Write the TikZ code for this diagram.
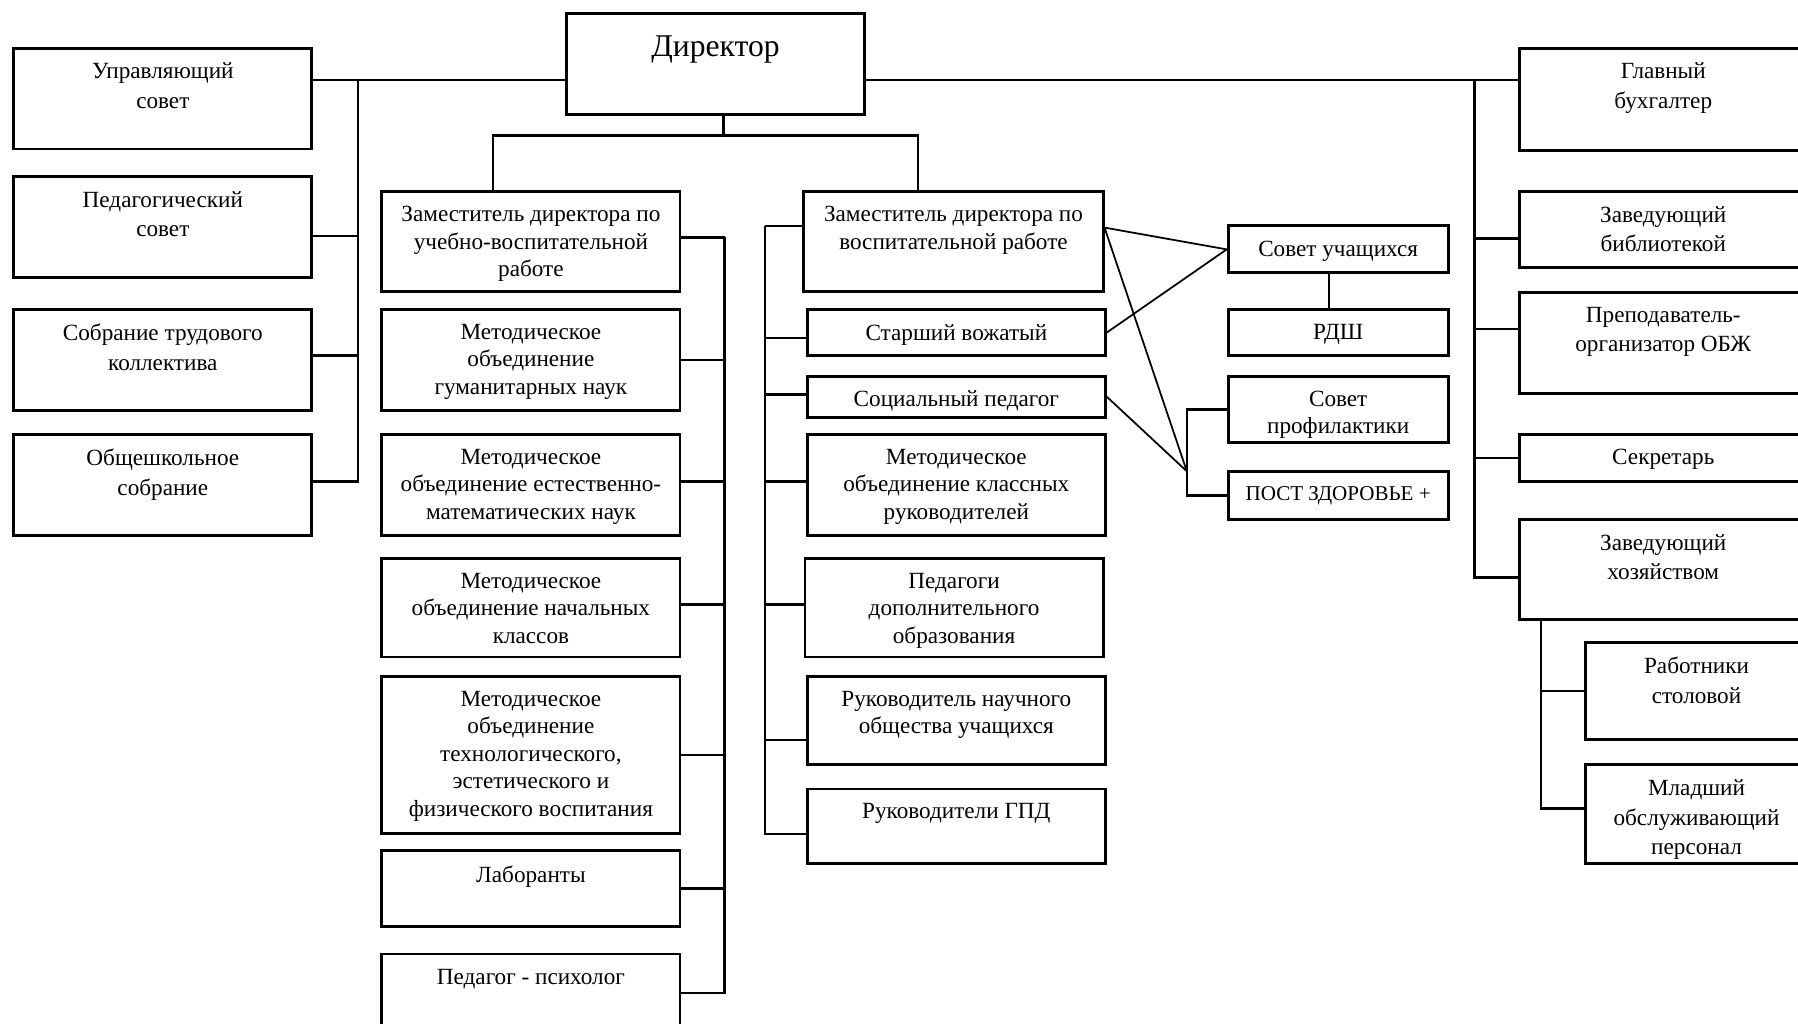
\documentclass[tikz,border=0pt]{standalone}
\usepackage{fontspec}
\setmainfont{Liberation Serif}
\usetikzlibrary{calc,fit}

\begin{document}
\begin{tikzpicture}[x=0.11467mm, y=-0.11467mm,
		box/.style={draw, line width=0.8pt, inner sep=0pt},
		lbl/.style={anchor=north, yshift=-1.55mm, align=center, inner sep=0pt, font=\fontsize{6.6}{7.8}\selectfont},
		side/.style={lbl, font=\fontsize{6.6}{8.4}\selectfont},
		head/.style={lbl, yshift=-0.7mm, font=\fontsize{9}{11}\selectfont},
		link/.style={line width=0.7pt},
		cross/.style={line width=0.5pt}]
			\useasboundingbox (0,0) rectangle (1568,893);
			\clip (0,0) rectangle (1568,893);
			% director
			\node[box, fit={(494,12) (754,100)}, label={[head]north:{Директор}}] (dir) {};
			% left column
			\node[box, fit={(12,42) (272,130)}, label={[side]north:{Управляющий\\совет}}] (upr) {};
			\node[box, fit={(12,154) (272,242)}, label={[side]north:{Педагогический\\совет}}] (ped) {};
			\node[box, fit={(12,270) (272,358)}, label={[side]north:{Собрание трудового\\коллектива}}] (sob) {};
			\node[box, fit={(12,379) (272,467)}, label={[side]north:{Общешкольное\\собрание}}] (obs) {};
			% deputy for teaching
			\node[box, fit={(333,167) (593,254)}, label={[lbl]north:{Заместитель директора по\\учебно-воспитательной\\работе}}] (zuvr) {};
			\node[box, fit={(333,270) (593,358)}, label={[lbl]north:{Методическое\\объединение\\гуманитарных наук}}] (mgum) {};
			\node[box, fit={(333,379) (593,467)}, label={[lbl]north:{Методическое\\объединение естественно-\\математических наук}}] (mest) {};
			\node[box, fit={(333,487) (593,573)}, label={[lbl]north:{Методическое\\объединение начальных\\классов}}] (mnach) {};
			\node[box, fit={(333,590) (593,727)}, label={[lbl]north:{Методическое\\объединение\\технологического,\\эстетического и\\физического воспитания}}] (mtech) {};
			\node[box, fit={(333,742) (593,808)}, label={[lbl]north:{Лаборанты}}] (lab) {};
			\node[box, fit={(333,832) (593,900)}, label={[lbl]north:{Педагог - психолог}}] (psy) {};
			% deputy for upbringing
			\node[box, fit={(701,167) (962,254)}, label={[lbl]north:{Заместитель директора по\\воспитательной работе}}] (zvr) {};
			\node[box, fit={(704,270) (964,310)}, label={[lbl]north:{Старший вожатый}}] (star) {};
			\node[box, fit={(704,328) (964,364)}, label={[lbl]north:{Социальный педагог}}] (soc) {};
			\node[box, fit={(704,379) (964,467)}, label={[lbl]north:{Методическое\\объединение классных\\руководителей}}] (mkl) {};
			\node[box, fit={(702,487) (962,573)}, label={[lbl]north:{Педагоги\\дополнительного\\образования}}] (pdop) {};
			\node[box, fit={(704,590) (964,667)}, label={[lbl]north:{Руководитель научного\\общества учащихся}}] (rnau) {};
			\node[box, fit={(704,688) (964,753)}, label={[lbl]north:{Руководители ГПД}}] (gpd) {};
			% pupils
			\node[box, fit={(1071,197) (1263,238)}, label={[lbl]north:{Совет учащихся}}] (sovu) {};
			\node[box, fit={(1071,270) (1263,310)}, label={[lbl]north:{РДШ}}] (rdsh) {};
			\node[box, fit={(1071,328) (1263,386)}, label={[lbl]north:{Совет\\профилактики}}] (sprof) {};
			\node[box, fit={(1071,411) (1263,453)}, label={[lbl, font=\fontsize{6}{7}\selectfont]north:{ПОСТ ЗДОРОВЬЕ +}}] (post) {};
			% right column
			\node[box, fit={(1325,42) (1576,131)}, label={[side]north:{Главный\\бухгалтер}}] (glb) {};
			\node[box, fit={(1325,167) (1576,233)}, label={[side]north:{Заведующий\\библиотекой}}] (zbib) {};
			\node[box, fit={(1325,255) (1576,343)}, label={[side]north:{Преподаватель-\\организатор ОБЖ}}] (obzh) {};
			\node[box, fit={(1325,379) (1576,420)}, label={[side]north:{Секретарь}}] (sekr) {};
			\node[box, fit={(1325,453) (1576,540)}, label={[side]north:{Заведующий\\хозяйством}}] (zhoz) {};
			\node[box, fit={(1383,560) (1576,645)}, label={[side]north:{Работники\\столовой}}] (rstol) {};
			\node[box, fit={(1383,667) (1576,753)}, label={[side]north:{Младший\\обслуживающий\\персонал}}] (mlad) {};

			\coordinate (lbus) at (312,70);
			\coordinate (rbus) at (1286,70);
			\coordinate (split) at (631,118);
			\coordinate (ubus) at (632,207);
			\coordinate (vbus) at (667,197);
			\coordinate (zvrout) at ($(zvr.east)+(0,-12)$);
			\coordinate (jn) at (1035,411);

			% top level
			\draw[link] (upr.east |- lbus) -- (dir.west |- lbus);
			\draw[link] (dir.east |- rbus) -- (glb.west |- rbus);
			\draw[link] ($(ped.east)+(0,8)$) -| (lbus);
			\draw[link] ($(sob.east)+(0,-4)$) -| (lbus);
			\draw[link] ($(obs.east)+(0,-3)$) -| (lbus);
			\draw[link] (dir.south -| split) -- (split);
			\draw[link] ($(zuvr.north)+(-33,0)$) |- (split) -| ($(zvr.north)+(-31,0)$);
			% teaching branch
			\draw[link] (zuvr.east |- ubus) -- (ubus);
			\draw[link] (mgum.east) -| (ubus);
			\draw[link] ($(mest.east)+(0,-3)$) -| (ubus);
			\draw[link] ($(mnach.east)+(0,-3)$) -| (ubus);
			\draw[link] (mtech.east) -| (ubus);
			\draw[link] (lab.east) -| (ubus);
			\draw[link] (psy.east) -| (ubus);
			% upbringing branch
			\draw[link] (zvr.west |- vbus) -- (vbus);
			\draw[link] ($(star.west)+(0,5)$) -| (vbus);
			\draw[link] ($(soc.west)+(0,-2)$) -| (vbus);
			\draw[link] ($(mkl.west)+(0,-3)$) -| (vbus);
			\draw[link] ($(pdop.west)+(0,-3)$) -| (vbus);
			\draw[link] ($(rnau.west)+(0,17)$) -| (vbus);
			\draw[link] ($(gpd.west)+(0,7)$) -| (vbus);
			\draw[cross] (zvrout) -- (sovu.west);
			\draw[cross] (star.east) -- (sovu.west);
			\draw[cross] (zvrout) -- (jn);
			\draw[cross] (soc.east) -- (jn);
			\draw[link] (sprof.west) -| (jn) |- (post.west);
			\draw[link] ($(sovu.south)+(-8,0)$) -- ($(rdsh.north)+(-8,0)$);
			% staff branch
			\draw[link] ($(zbib.west)+(0,8)$) -| (rbus);
			\draw[link] ($(obzh.west)+(0,-12)$) -| (rbus);
			\draw[link] (sekr.west) -| (rbus);
			\draw[link] ($(zhoz.west)+(0,7)$) -| (rbus);
			\draw[link] (rstol.west) -| ($(zhoz.south west)+(20,0)$);
			\draw[link] ($(mlad.west)+(0,-5)$) -| ($(zhoz.south west)+(20,0)$);
		\end{tikzpicture}
\end{document}
